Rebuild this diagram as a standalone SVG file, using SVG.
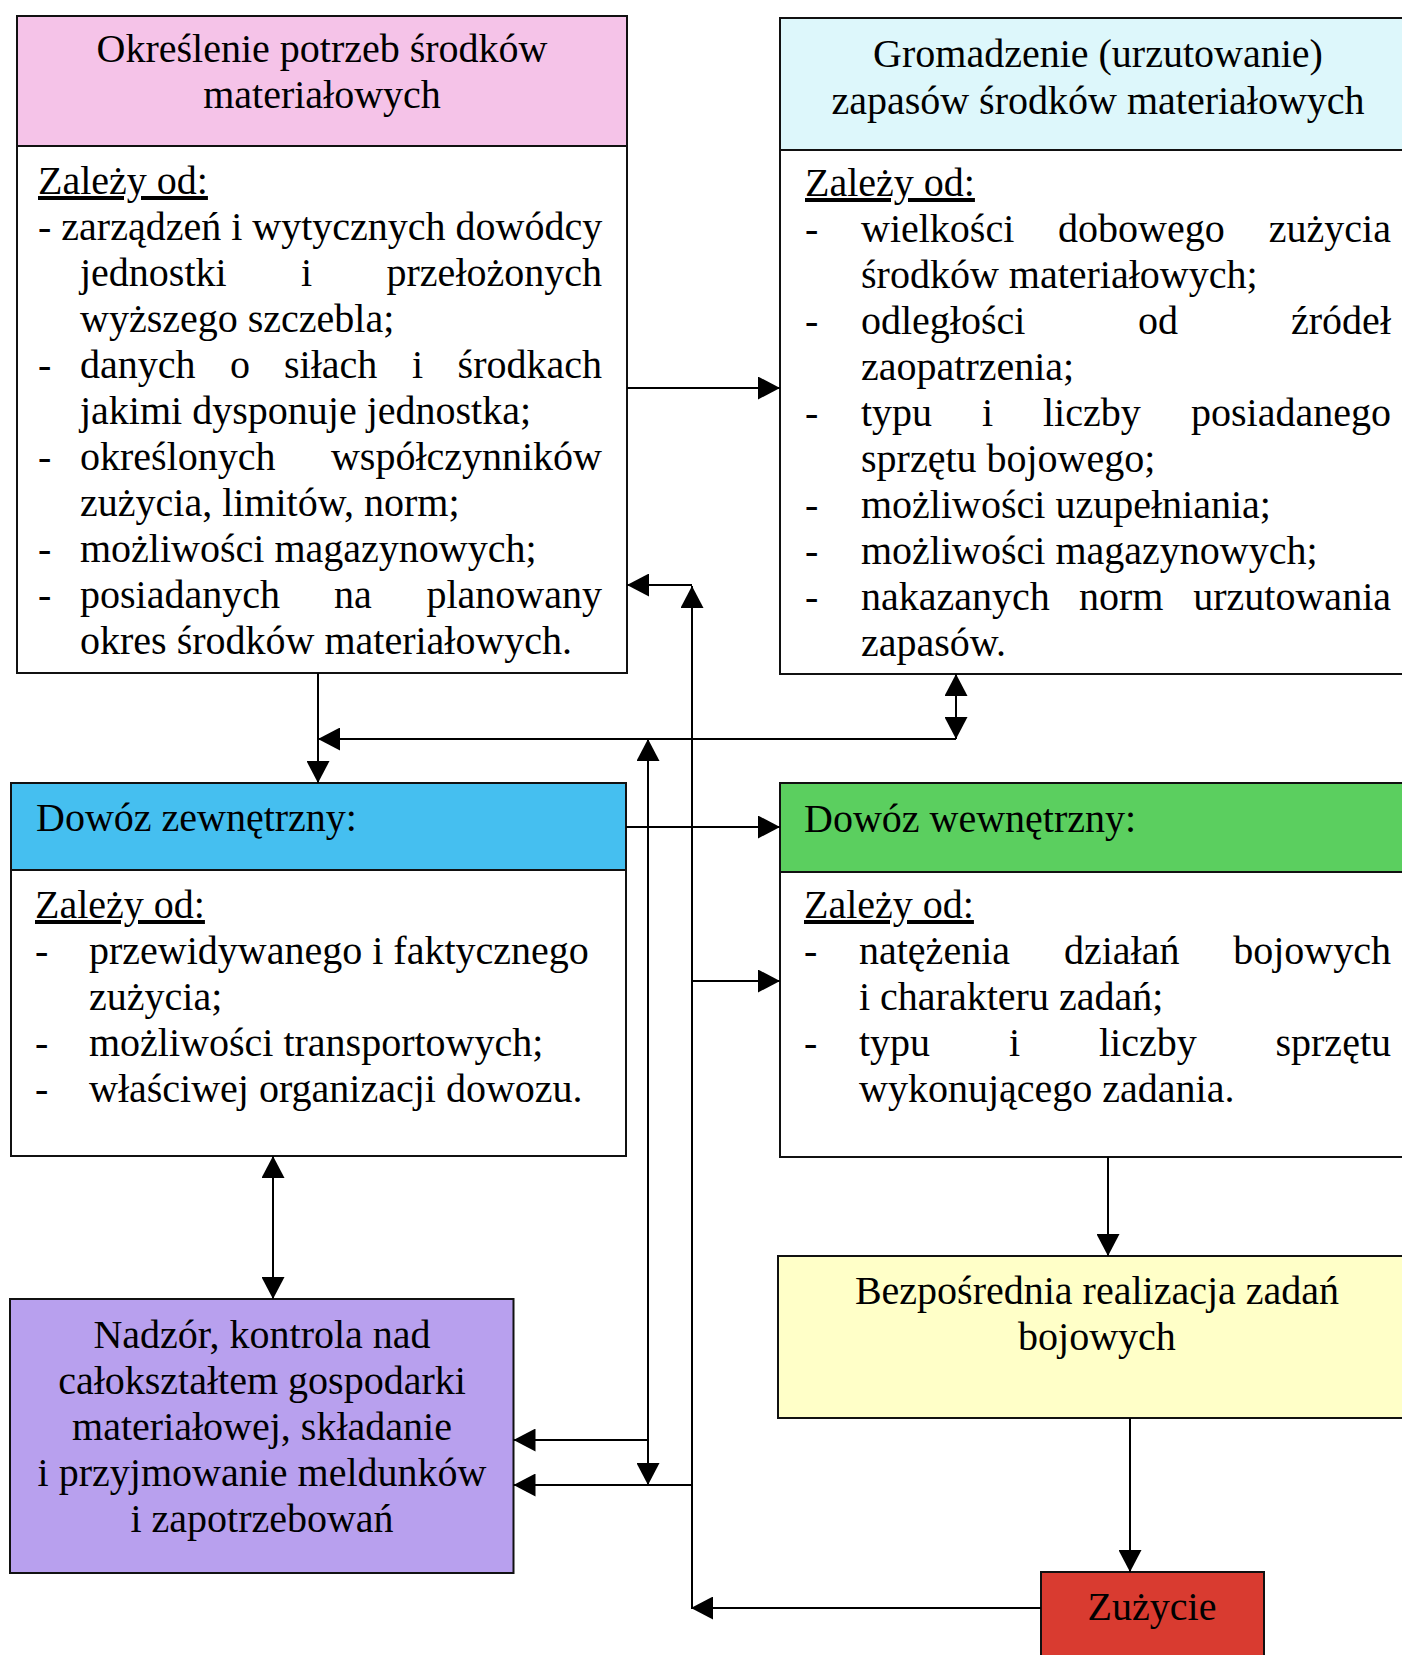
<svg xmlns="http://www.w3.org/2000/svg" width="1402" height="1655" viewBox="0 0 1402 1655">
  <defs>
    <marker id="arrow" markerUnits="userSpaceOnUse" markerWidth="22" markerHeight="23" refX="22" refY="11.5" orient="auto-start-reverse" viewBox="0 0 22 23">
      <path d="M0,0 L22,11.5 L0,23 Z" fill="#000"/>
    </marker>
  </defs>
  <style>
    text { font-family: "Liberation Serif", "Times New Roman", serif; font-size: 40px; fill: #000; }
    .c { text-anchor: middle; }
    .e { text-anchor: end; }
    .u { text-decoration: underline; }
    .box { stroke: #111; stroke-width: 2; }
    .sep { stroke: #111; stroke-width: 2; }
    .conn line, .conn path { stroke: #000; stroke-width: 2; fill: none; }
  </style>
  <rect width="1402" height="1655" fill="#fff"/>

  <!-- Needs assessment -->
  <g id="node-okreslenie">
    <rect class="box" x="17" y="16" width="610" height="657" fill="#fff"/>
    <rect class="box" x="17" y="16" width="610" height="130" fill="#F5C3E8"/>
    <text class="c" x="322" y="62">Określenie potrzeb środków</text>
    <text class="c" x="322" y="108">materiałowych</text>
    <text class="u" x="38" y="194">Zależy od:</text>
    <text x="38" y="240">- zarządzeń i wytycznych dowódcy</text>
    <text x="80" y="286">jednostki</text><text x="301" y="286">i</text><text class="e" x="602" y="286">przełożonych</text>
    <text x="80" y="332">wyższego szczebla;</text>
    <text x="38" y="378">-</text><text x="80" y="378">danych</text><text x="230" y="378">o</text><text x="284" y="378">siłach</text><text x="412" y="378">i</text><text class="e" x="602" y="378">środkach</text>
    <text x="80" y="424">jakimi dysponuje jednostka;</text>
    <text x="38" y="470">-</text><text x="80" y="470">określonych</text><text class="e" x="602" y="470">współczynników</text>
    <text x="80" y="516">zużycia, limitów, norm;</text>
    <text x="38" y="562">-</text><text x="80" y="562">możliwości magazynowych;</text>
    <text x="38" y="608">-</text><text x="80" y="608">posiadanych</text><text x="334" y="608">na</text><text class="e" x="602" y="608">planowany</text>
    <text x="80" y="654">okres środków materiałowych.</text>
  </g>

  <!-- Stock accumulation -->
  <g id="node-gromadzenie">
    <rect class="box" x="780" y="18" width="640" height="656" fill="#fff"/>
    <rect class="box" x="780" y="18" width="640" height="132" fill="#DDF7FB"/>
    <text class="c" x="1098" y="67">Gromadzenie (urzutowanie)</text>
    <text class="c" x="1098" y="114">zapasów środków materiałowych</text>
    <text class="u" x="805" y="196">Zależy od:</text>
    <text x="805" y="242">-</text><text x="861" y="242">wielkości</text><text x="1058" y="242">dobowego</text><text class="e" x="1391" y="242">zużycia</text>
    <text x="861" y="288">środków materiałowych;</text>
    <text x="805" y="334">-</text><text x="861" y="334">odległości</text><text x="1138" y="334">od</text><text class="e" x="1391" y="334">źródeł</text>
    <text x="861" y="380">zaopatrzenia;</text>
    <text x="805" y="426">-</text><text x="861" y="426">typu</text><text x="982" y="426">i</text><text x="1043" y="426">liczby</text><text class="e" x="1391" y="426">posiadanego</text>
    <text x="861" y="472">sprzętu bojowego;</text>
    <text x="805" y="518">-</text><text x="861" y="518">możliwości uzupełniania;</text>
    <text x="805" y="564">-</text><text x="861" y="564">możliwości magazynowych;</text>
    <text x="805" y="610">-</text><text x="861" y="610">nakazanych</text><text x="1079" y="610">norm</text><text class="e" x="1391" y="610">urzutowania</text>
    <text x="861" y="656">zapasów.</text>
  </g>

  <!-- External delivery -->
  <g id="node-dowoz-zewnetrzny">
    <rect class="box" x="11" y="783" width="615" height="373" fill="#fff"/>
    <rect class="box" x="11" y="783" width="615" height="87" fill="#45BFF0"/>
    <text x="36" y="831">Dowóz zewnętrzny:</text>
    <text class="u" x="35" y="918">Zależy od:</text>
    <text x="35" y="964">-</text><text x="89" y="964">przewidywanego i faktycznego</text>
    <text x="89" y="1010">zużycia;</text>
    <text x="35" y="1056">-</text><text x="89" y="1056">możliwości transportowych;</text>
    <text x="35" y="1102">-</text><text x="89" y="1102">właściwej organizacji dowozu.</text>
  </g>

  <!-- Internal delivery -->
  <g id="node-dowoz-wewnetrzny">
    <rect class="box" x="780" y="783" width="640" height="374" fill="#fff"/>
    <rect class="box" x="780" y="783" width="640" height="89" fill="#5BCF5F"/>
    <text x="804" y="832">Dowóz wewnętrzny:</text>
    <text class="u" x="804" y="918">Zależy od:</text>
    <text x="804" y="964">-</text><text x="859" y="964">natężenia</text><text x="1064" y="964">działań</text><text class="e" x="1391" y="964">bojowych</text>
    <text x="859" y="1010">i charakteru zadań;</text>
    <text x="804" y="1056">-</text><text x="859" y="1056">typu</text><text x="1009" y="1056">i</text><text x="1099" y="1056">liczby</text><text class="e" x="1391" y="1056">sprzętu</text>
    <text x="859" y="1102">wykonującego zadania.</text>
  </g>

  <!-- Combat task execution -->
  <g id="node-realizacja">
    <rect class="box" x="778" y="1256" width="640" height="162" fill="#FFFFC8"/>
    <text class="c" x="1097" y="1304">Bezpośrednia realizacja zadań</text>
    <text class="c" x="1097" y="1350">bojowych</text>
  </g>

  <!-- Supervision and control -->
  <g id="node-nadzor">
    <rect class="box" x="10" y="1299" width="503.5" height="274" fill="#B8A0EE"/>
    <text class="c" x="262" y="1348">Nadzór, kontrola nad</text>
    <text class="c" x="262" y="1394">całokształtem gospodarki</text>
    <text class="c" x="262" y="1440">materiałowej, składanie</text>
    <text class="c" x="262" y="1486">i przyjmowanie meldunków</text>
    <text class="c" x="262" y="1532">i zapotrzebowań</text>
  </g>

  <!-- Consumption -->
  <g id="node-zuzycie">
    <rect class="box" x="1041" y="1572" width="223" height="100" fill="#D93B30"/>
    <text class="c" x="1152" y="1620">Zużycie</text>
  </g>

  <!-- Connectors -->
  <g id="connectors" class="conn">
    <line x1="627" y1="388" x2="780" y2="388" marker-end="url(#arrow)"/>
    <line x1="318" y1="673" x2="318" y2="783" marker-end="url(#arrow)"/>
    <line x1="956" y1="739" x2="956" y2="674" marker-start="url(#arrow)" marker-end="url(#arrow)"/>
    <line x1="956" y1="739" x2="318" y2="739" marker-end="url(#arrow)"/>
    <line x1="648" y1="1485" x2="648" y2="739" marker-start="url(#arrow)" marker-end="url(#arrow)"/>
    <line x1="648" y1="1440" x2="513.5" y2="1440" marker-end="url(#arrow)"/>
    <line x1="1041" y1="1608" x2="691" y2="1608" marker-end="url(#arrow)"/>
    <line x1="692" y1="1608" x2="692" y2="586" marker-end="url(#arrow)"/>
    <line x1="692" y1="585" x2="627" y2="585" marker-end="url(#arrow)"/>
    <line x1="692" y1="981" x2="780" y2="981" marker-end="url(#arrow)"/>
    <line x1="692" y1="1485" x2="513.5" y2="1485" marker-end="url(#arrow)"/>
    <line x1="626" y1="827" x2="780" y2="827" marker-end="url(#arrow)"/>
    <line x1="273" y1="1156" x2="273" y2="1299" marker-start="url(#arrow)" marker-end="url(#arrow)"/>
    <line x1="1108" y1="1157" x2="1108" y2="1256" marker-end="url(#arrow)"/>
    <line x1="1130" y1="1418" x2="1130" y2="1572" marker-end="url(#arrow)"/>
  </g>
</svg>
